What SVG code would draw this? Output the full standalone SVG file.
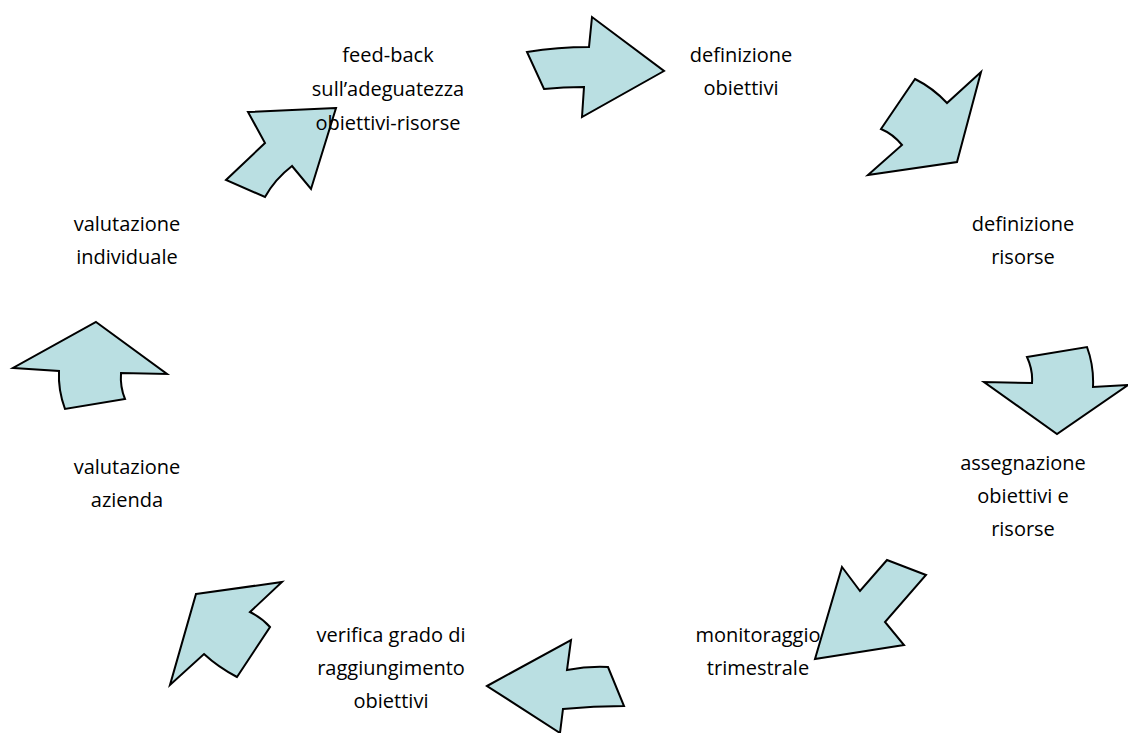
<svg xmlns="http://www.w3.org/2000/svg" width="1128" height="733" viewBox="0 0 1128 733">
  <style>
    .lbl { font-family: "Open Sans", "Liberation Sans", sans-serif; font-size: 20px; fill: #000; text-anchor: middle; }
    .arrow { fill: #BADFE2; stroke: #000; stroke-width: 2; stroke-linejoin: miter; }
  </style>
  <rect width="1128" height="733" fill="#fff"/>

  <!-- this label sits beneath the arrow that points into it -->
  <g id="node-monitoraggio">
    <text class="lbl" x="758" y="642">monitoraggio</text>
    <text class="lbl" x="758" y="675">trimestrale</text>
  </g>

  <g id="connectors">
    <path class="arrow" d="M527,52 Q558,47 589,47 L592,17 L664,71 L582,117 L584,87 Q563,87 544,89 Z"/>
    <path class="arrow" d="M915,79 Q933,88 947,103 L981,72 L957,162 L868,175 L902,145 Q893,134 881,129 Z"/>
    <path class="arrow" d="M1027,357 L1087,347 Q1094,366 1093,387 L1128,385 L1057,434 L984,382 L1032,383 Q1033,370 1027,357 Z"/>
    <path class="arrow" d="M842,567 L860,591 L887,560 L926,575 L885,622 L904,645 L815,659 Z"/>
    <path class="arrow" d="M487,686 L571,640 L567,670 Q588,666 608,667 L624,706 Q594,706 563,709 L560,733 Z"/>
    <path class="arrow" d="M196,594 L282,582 L250,612 Q262,618 270,627 L237,677 Q218,667 204,654 L170,685 Z"/>
    <path class="arrow" d="M96,322 L167,374 L121,373 Q120,387 125,399 L65,409 Q58,390 59,371 L13,368 Z"/>
    <path class="arrow" d="M336,108 L248,112 L265,143 L226,180 L265,197 Q275,179 292,166 L311,189 Z"/>
  </g>

  <g id="node-feedback">
    <text class="lbl" x="388" y="62">feed-back</text>
    <text class="lbl" x="388" y="96">sull’adeguatezza</text>
    <text class="lbl" x="388" y="130">obiettivi-risorse</text>
  </g>
  <g id="node-definizione-obiettivi">
    <text class="lbl" x="741" y="62">definizione</text>
    <text class="lbl" x="741" y="95">obiettivi</text>
  </g>
  <g id="node-definizione-risorse">
    <text class="lbl" x="1023" y="231">definizione</text>
    <text class="lbl" x="1023" y="264">risorse</text>
  </g>
  <g id="node-assegnazione">
    <text class="lbl" x="1023" y="470">assegnazione</text>
    <text class="lbl" x="1023" y="503">obiettivi e</text>
    <text class="lbl" x="1023" y="536">risorse</text>
  </g>
  <g id="node-verifica">
    <text class="lbl" x="391" y="642">verifica grado di</text>
    <text class="lbl" x="391" y="675">raggiungimento</text>
    <text class="lbl" x="391" y="708">obiettivi</text>
  </g>
  <g id="node-valutazione-azienda">
    <text class="lbl" x="127" y="474">valutazione</text>
    <text class="lbl" x="127" y="507">azienda</text>
  </g>
  <g id="node-valutazione-individuale">
    <text class="lbl" x="127" y="231">valutazione</text>
    <text class="lbl" x="127" y="264">individuale</text>
  </g>
</svg>
